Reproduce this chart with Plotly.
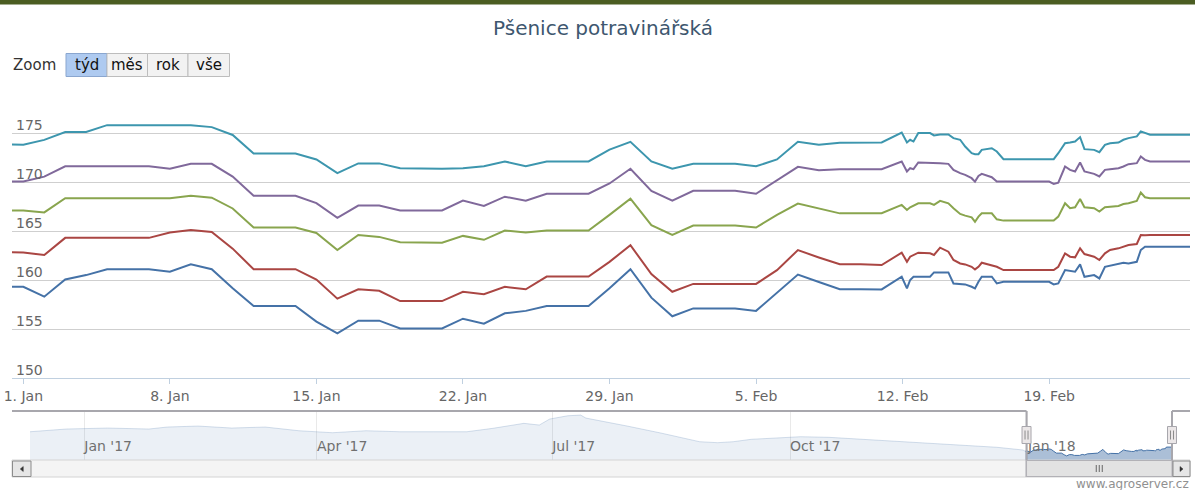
import pandas as pd
import plotly.graph_objects as go

# ---------------- data ----------------
TITLE = "Pšenice potravinářská"
ZOOM_LABEL = "Zoom"
ZOOM_BUTTONS = ["týd", "měs", "rok", "vše"]
CREDITS = "www.agroserver.cz"

series_names = ["Řada 1", "Řada 2", "Řada 3", "Řada 4", "Řada 5"]
series_colors = ["#4572A7", "#AA4643", "#89A54E", "#80699B", "#3D96AE"]

# daily points 31 Dec 2017 .. 10 Feb 2018
daily_dates = [d.strftime("%Y-%m-%d %H:%M") for d in pd.date_range("2017-12-31", "2018-02-10", freq="D")]
# intraday points from 11 Feb 2018
fine_dates = ["2018-02-11 00:00", "2018-02-11 23:00", "2018-02-12 05:00", "2018-02-12 08:40",
              "2018-02-12 12:30", "2018-02-12 18:00", "2018-02-13 07:30", "2018-02-13 12:00",
              "2018-02-13 19:00", "2018-02-14 04:30", "2018-02-14 10:20", "2018-02-14 18:00",
              "2018-02-14 23:45", "2018-02-15 07:10", "2018-02-15 11:00", "2018-02-15 15:00",
              "2018-02-15 18:45", "2018-02-16 06:15", "2018-02-16 12:00", "2018-02-16 19:40",
              "2018-02-19 00:00", "2018-02-19 05:15", "2018-02-19 10:30", "2018-02-19 18:15",
              "2018-02-20 00:00", "2018-02-20 05:45", "2018-02-20 11:30", "2018-02-20 16:30",
              "2018-02-21 03:35", "2018-02-21 09:35", "2018-02-21 16:00", "2018-02-21 21:50",
              "2018-02-22 07:30", "2018-02-22 13:10", "2018-02-22 19:00", "2018-02-23 04:30",
              "2018-02-23 09:05", "2018-02-23 13:55", "2018-02-23 19:40", "2018-02-25 17:30"]
dates = daily_dates + fine_dates

blue_daily = [159.3, 159.3, 158.3, 160.05, 160.5, 161.1, 161.1, 161.1, 160.85, 161.6, 161.1,
              159.15, 157.35, 157.35, 157.35, 155.75, 154.55, 155.85, 155.85, 155.05, 155.05,
              155.05, 156.05, 155.55, 156.6, 156.85, 157.35, 157.35, 157.35, 159.15, 161.1,
              158.2, 156.3, 157.1, 157.1, 157.1, 156.85, 158.7, 160.55, 159.8, 159.05, 159.05]
blue_fine = [159.04, 160.33, 159.14, 160.0, 160.33, 160.33, 160.33, 160.77, 160.77, 160.77,
             159.65, 159.55, 159.55, 159.31, 159.14, 159.82, 160.33, 160.33, 159.65, 159.82,
             159.82, 159.55, 159.65, 161.01, 160.94, 160.84, 161.59, 160.33, 160.5, 160.16,
             161.35, 161.45, 161.69, 161.76, 161.69, 161.86, 163.06, 163.4, 163.4, 163.4]

red_daily = [162.85, 162.8, 162.55, 164.3, 164.3, 164.3, 164.3, 164.3, 164.85, 165.1, 164.9,
             163.2, 161.1, 161.1, 161.1, 160.05, 158.1, 159.05, 158.9, 157.85, 157.85,
             157.85, 158.8, 158.55, 159.3, 159.05, 160.35, 160.35, 160.35, 161.85, 163.55,
             160.6, 158.8, 159.6, 159.6, 159.6, 159.6, 161.0, 163.05, 162.3, 161.6, 161.6]
red_fine = [161.52, 162.79, 161.86, 162.38, 162.55, 162.79, 162.72, 162.55, 163.3, 162.89,
            162.04, 161.69, 161.59, 161.35, 161.08, 161.35, 161.76, 161.52, 161.35, 161.01,
            161.01, 161.01, 161.35, 162.72, 162.38, 162.31, 163.23, 162.65, 162.38, 162.04,
            162.72, 163.06, 163.23, 163.4, 163.57, 163.67, 164.59, 164.56, 164.59, 164.59]

green_daily = [167.1, 167.1, 166.9, 168.35, 168.35, 168.35, 168.35, 168.35, 168.35, 168.6, 168.4,
               167.3, 165.35, 165.35, 165.35, 164.8, 163.05, 164.6, 164.4, 163.85, 163.8,
               163.8, 164.5, 164.1, 165.05, 164.85, 165.05, 165.05, 165.05, 166.65, 168.3,
               165.6, 164.6, 165.55, 165.55, 165.55, 165.35, 166.65, 167.8, 167.3, 166.8, 166.8]
green_fine = [166.81, 167.66, 167.15, 167.42, 167.56, 167.83, 167.83, 167.66, 168.07, 167.83,
              167.32, 166.74, 166.57, 166.4, 165.95, 166.47, 166.81, 166.81, 166.19, 166.06,
              166.06, 166.06, 166.47, 167.83, 167.32, 167.42, 168.27, 167.42, 167.32, 166.98,
              167.42, 167.49, 167.56, 167.76, 167.83, 168.07, 168.92, 168.44, 168.34, 168.34]

purple_daily = [170.05, 170.05, 170.55, 171.6, 171.6, 171.6, 171.6, 171.6, 171.35, 171.85, 171.85,
                170.55, 168.6, 168.6, 168.6, 167.85, 166.35, 167.6, 167.6, 167.1, 167.1,
                167.1, 168.1, 167.55, 168.5, 168.1, 168.8, 168.8, 168.8, 169.85, 171.35,
                169.1, 168.1, 169.1, 169.1, 169.1, 168.8, 170.15, 171.55, 171.2, 171.3, 171.3]
purple_fine = [171.31, 172.09, 171.07, 171.41, 171.31, 171.99, 171.99, 171.92, 171.92, 171.85,
               171.24, 170.9, 170.73, 170.39, 170.04, 170.62, 170.83, 170.49, 170.04, 170.04,
               170.04, 169.81, 169.94, 171.58, 171.24, 171.07, 171.99, 171.07, 170.83, 170.56,
               171.24, 171.31, 171.41, 171.58, 171.82, 171.92, 172.6, 172.26, 172.09, 172.09]

teal_daily = [173.85, 173.8, 174.3, 175.1, 175.1, 175.8, 175.8, 175.8, 175.8, 175.8, 175.6,
              174.8, 172.9, 172.9, 172.9, 172.3, 170.9, 171.9, 171.9, 171.4, 171.35,
              171.35, 171.4, 171.6, 172.1, 171.6, 172.1, 172.1, 172.1, 173.3, 174.1,
              172.1, 171.35, 171.85, 171.85, 171.85, 171.6, 172.3, 174.1, 173.8, 174.0, 174.05]
teal_fine = [174.03, 175.05, 174.03, 174.31, 174.13, 174.99, 174.99, 174.75, 174.85, 174.85,
             174.48, 174.31, 173.62, 172.94, 172.84, 172.84, 173.28, 173.45, 173.11, 172.33,
             172.33, 172.33, 172.94, 173.96, 174.03, 174.13, 174.58, 173.35, 173.28, 173.04,
             173.79, 173.96, 174.03, 174.31, 174.48, 174.65, 175.16, 174.99, 174.82, 174.82]

series_values = [blue_daily + blue_fine, red_daily + red_fine, green_daily + green_fine,
                 purple_daily + purple_fine, teal_daily + teal_fine]

# navigator history of the first series (before the shown period)
hist_dates = ["2016-12-11", "2016-12-25", "2017-01-10", "2017-01-26", "2017-02-02", "2017-02-14",
              "2017-02-27", "2017-03-12", "2017-03-25", "2017-04-07", "2017-04-20", "2017-05-03",
              "2017-05-16", "2017-05-29", "2017-06-08", "2017-06-20", "2017-06-26", "2017-06-30",
              "2017-07-07", "2017-07-12", "2017-07-14", "2017-07-22", "2017-07-30", "2017-08-12",
              "2017-08-21", "2017-08-27", "2017-09-03", "2017-09-09", "2017-09-16", "2017-09-22",
              "2017-10-05", "2017-10-16", "2017-10-29", "2017-11-11", "2017-11-24", "2017-12-07",
              "2017-12-20", "2017-12-30"]
hist_values = [178.8, 181.5, 182.5, 181.5, 183.5, 184.5, 182.5, 183.5, 179.8, 177.8, 179.8, 178.8,
               178.8, 178.8, 182.2, 187.2, 185.5, 191.5, 194.8, 195.5, 192.5, 188.8, 184.5, 177.5,
               172.5, 168.8, 167.8, 168.8, 171.2, 172.2, 173.8, 173.2, 171.2, 168.8, 166.5, 164.5,
               163.2, 160.5]

view_start = "2017-12-31 11:00"
view_end = dates[-1]
y_range = [150, 180]
y_ticks = [150, 155, 160, 165, 170, 175, 180]
y_tick_labels = ["150", "155", "160", "165", "170", "175"]   # top tick label is not shown
x_tick_dates = ["2018-01-01", "2018-01-08", "2018-01-15", "2018-01-22", "2018-01-29",
                "2018-02-05", "2018-02-12", "2018-02-19"]
x_tick_labels = ["1. Jan", "8. Jan", "15. Jan", "22. Jan", "29. Jan", "5. Feb", "12. Feb", "19. Feb"]

# ---------------- geometry helpers (page pixels -> paper) ----------------
FW, FH = 1195, 490
ML, MR, MT, MB = 12, 5, 84, 13
PW, PH = FW - ML - MR, FH - MT - MB


def px(x):
    return (x - ML) / PW


def py(y):
    return (FH - MB - y) / PH


FONT = "DejaVu Sans"

fig = go.Figure()

for name, color, vals in zip(series_names, series_colors, series_values):
    fig.add_trace(go.Scatter(x=dates, y=vals, mode="lines", name=name,
                             line=dict(color=color, width=2), xaxis="x", yaxis="y",
                             hoverinfo="x+y+name"))

nav_dates = hist_dates + dates
nav_values = hist_values + series_values[0]
# unselected (masked) part of the navigator series
fig.add_trace(go.Scatter(x=hist_dates + dates[:1], y=hist_values + series_values[0][:1],
                         mode="lines", fill="tozeroy",
                         line=dict(color="rgba(69,114,167,0.22)", width=1),
                         fillcolor="rgba(69,114,167,0.105)", xaxis="x2", yaxis="y2",
                         hoverinfo="skip"))
# selected part of the navigator series
fig.add_trace(go.Scatter(x=dates, y=series_values[0], mode="lines", fill="tozeroy",
                         line=dict(color="#4572A7", width=1),
                         fillcolor="rgba(69,114,167,0.45)", xaxis="x2", yaxis="y2",
                         hoverinfo="skip"))

nav_lo = min(nav_values) - 0.1 * (max(nav_values) - min(nav_values))
nav_hi = max(nav_values) + 0.1 * (max(nav_values) - min(nav_values))
nav_start = pd.Timestamp(nav_dates[0])
nav_end = pd.Timestamp(nav_dates[-1])
# navigator axis is extended by the scrollbar button width on the right
nav_axis_end = nav_end + (nav_end - nav_start) * (18.0 / 1142.0)
vs = pd.Timestamp(view_start)
ve = pd.Timestamp(view_end)
v_mid = vs + (ve - vs) / 2

shapes = []
# top dark band
shapes.append(dict(type="rect", xref="paper", yref="paper", x0=-0.02, x1=1.02,
                   y0=py(4.5), y1=py(-2), fillcolor="#4B5D22", line=dict(width=0), layer="below"))

# range selector buttons
btn_x = [66, 107, 147.5, 188, 229.5]
for i, lab in enumerate(ZOOM_BUTTONS):
    sel = i == 0
    shapes.append(dict(type="rect", xref="paper", yref="paper",
                       x0=px(btn_x[i]), x1=px(btn_x[i + 1]), y0=py(76.5), y1=py(53.5),
                       fillcolor="#aecaf0" if sel else "#f2f2f2",
                       line=dict(color="#8aa6cf" if sel else "#bdbdbd", width=1)))

# scrollbar track
shapes.append(dict(type="rect", xref="paper", yref="paper", x0=px(12), x1=px(1190),
                   y0=py(477), y1=py(460), fillcolor="#f4f4f4", line=dict(color="#d4d4d4", width=1)))
# outline
OUT = dict(color="#a8a7ad", width=2)
shapes.append(dict(type="line", xref="paper", yref="paper", x0=px(12), x1=px(30),
                   y0=py(411), y1=py(411), line=OUT))
shapes.append(dict(type="line", xref="x2", yref="paper", x0=nav_start, x1=vs,
                   y0=py(411), y1=py(411), line=OUT))
shapes.append(dict(type="line", xref="x2", yref="paper", x0=vs, x1=vs,
                   y0=py(411), y1=py(477), line=OUT))
shapes.append(dict(type="line", xref="x2", yref="paper", x0=ve, x1=ve,
                   y0=py(411), y1=py(477), line=OUT))
shapes.append(dict(type="line", xref="paper", yref="paper", x0=px(1172), x1=px(1190),
                   y0=py(411), y1=py(411), line=OUT))
# scrollbar thumb
shapes.append(dict(type="rect", xref="x2", yref="paper", x0=vs, x1=ve,
                   y0=py(476.5), y1=py(460.5), fillcolor="#e2e2e2",
                   line=dict(color="#b2b1b6", width=1)))
for off in (-3, 0, 3):
    shapes.append(dict(type="line", xref="x2", yref="paper", xsizemode="pixel", xanchor=v_mid,
                       x0=off, x1=off, y0=py(472), y1=py(465), line=dict(color="#666", width=1)))
# navigator handles
for anchor in (vs, ve):
    shapes.append(dict(type="rect", xref="x2", yref="paper", xsizemode="pixel", xanchor=anchor,
                       x0=-4.5, x1=4.5, y0=py(443.5), y1=py(426.5), fillcolor="#ebe7e8",
                       line=dict(color="#a8a7ad", width=1)))
    for off in (-1.5, 1.5):
        shapes.append(dict(type="line", xref="x2", yref="paper", xsizemode="pixel", xanchor=anchor,
                           x0=off, x1=off, y0=py(439.5), y1=py(430.5),
                           line=dict(color="#8c8c8c", width=1)))
# scrollbar arrow buttons
for (xa, xb, tri) in ((12.5, 31.0, "L"), (1173.0, 1190.0, "R")):
    shapes.append(dict(type="rect", xref="paper", yref="paper", x0=px(xa), x1=px(xb),
                       y0=py(476.5), y1=py(461), fillcolor="#e6e6e6",
                       line=dict(color="#8c8c8c", width=1)))
    cx = (xa + xb) / 2
    if tri == "L":
        path = "M {} {} L {} {} L {} {} Z".format(px(cx + 1.5), py(466.5), px(cx + 1.5), py(471.5),
                                               px(cx - 1.5), py(469))
    else:
        path = "M {} {} L {} {} L {} {} Z".format(px(cx - 1.5), py(466.5), px(cx - 1.5), py(471.5),
                                               px(cx + 1.5), py(469))
    shapes.append(dict(type="path", xref="paper", yref="paper", path=path,
                       fillcolor="#333", line=dict(color="#333", width=0.5)))

annotations = []
annotations.append(dict(text=TITLE, xref="paper", yref="paper", x=px(603), y=py(28),
                        xanchor="center", yanchor="middle", showarrow=False,
                        font=dict(family=FONT, size=20, color="#3E576F")))
annotations.append(dict(text=ZOOM_LABEL, xref="paper", yref="paper", x=px(11), y=py(65.5),
                        xanchor="left", yanchor="middle", showarrow=False,
                        font=dict(family=FONT, size=15, color="#333")))
for i, lab in enumerate(ZOOM_BUTTONS):
    annotations.append(dict(text=lab, xref="paper", yref="paper",
                            x=px((btn_x[i] + btn_x[i + 1]) / 2), y=py(65.5),
                            xanchor="center", yanchor="middle", showarrow=False,
                            font=dict(family=FONT, size=15, color="#111")))
# value-axis labels, placed inside the plot just above their grid lines
for val, lab in zip(y_ticks, y_tick_labels):
    annotations.append(dict(text=lab, xref="paper", yref="y", x=px(14), y=val, yshift=-2,
                            xanchor="left", yanchor="bottom", showarrow=False,
                            font=dict(family=FONT, size=14, color="#666")))
annotations.append(dict(text=CREDITS, xref="paper", yref="paper", x=px(1191), y=py(484),
                        xanchor="right", yanchor="middle", showarrow=False,
                        font=dict(family=FONT, size=12, color="#909090")))

fig.update_layout(
    width=FW, height=FH, autosize=False,
    margin=dict(l=ML, r=MR, t=MT, b=MB, pad=0),
    paper_bgcolor="white", plot_bgcolor="white",
    showlegend=False,
    font=dict(family=FONT, size=14, color="#666"),
    xaxis=dict(domain=[0, 1], anchor="y", type="date", range=[view_start, view_end],
               tickmode="array", tickvals=x_tick_dates, ticktext=x_tick_labels,
               ticklabeloverflow="allow",
               showgrid=False, zeroline=False, showline=True, linecolor="#C0D0E0", linewidth=1,
               ticks="outside", ticklen=5, tickcolor="#C0D0E0",
               tickfont=dict(family=FONT, size=14, color="#666"), fixedrange=True),
    yaxis=dict(domain=[py(378), 1], anchor="x", range=y_range, tickvals=y_ticks,
               showticklabels=False,
               showgrid=True, gridcolor="#cfcfcf", gridwidth=1, zeroline=False, showline=False,
               ticks="", fixedrange=True),
    xaxis2=dict(domain=[px(30), 1], anchor="y2", type="date", range=[nav_start, nav_axis_end],
                tick0="2017-01-01", dtick="M3", tickformat="%b '%y",
                ticklabelposition="inside right", showgrid=True, gridcolor="#e9e9e9",
                zeroline=False, showline=False, ticks="",
                tickfont=dict(family=FONT, size=14, color="#707070"), fixedrange=True),
    yaxis2=dict(domain=[py(460), py(411)], anchor="x2", range=[nav_lo, nav_hi],
                showgrid=False, zeroline=False, showticklabels=False, showline=False,
                fixedrange=True),
    shapes=shapes,
    annotations=annotations,
)

fig.write_html("out.html", config={"displayModeBar": False},
               post_script="document.body.style.margin='0';")
